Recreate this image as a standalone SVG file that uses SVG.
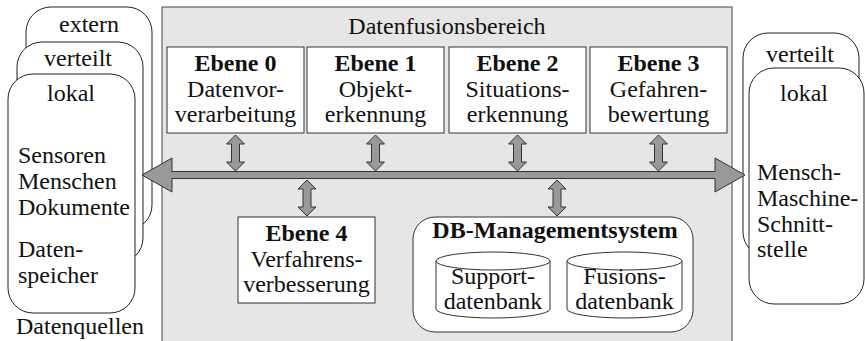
<svg xmlns="http://www.w3.org/2000/svg" width="865" height="341" viewBox="0 0 865 341">
<style>
text{font-family:"Liberation Serif","Times New Roman",serif;font-size:24px;fill:#111}
.c{text-anchor:middle}
.b{font-weight:bold}
.card{fill:#fff;stroke:#222;stroke-width:1}
.box{fill:#fff;stroke:#333;stroke-width:1}
.arr{fill:#999;stroke:#333;stroke-width:1}
</style>
<defs>
<path id="dbl" d="M0,0 L9,9 L4,9 L4,27 L9,27 L0,36 L-9,27 L-4,27 L-4,9 L-9,9 Z"/>
</defs>
<rect x="0" y="0" width="865" height="341" fill="#fff"/>

<g id="quellen">
<rect class="card" x="26" y="7" width="126" height="223" rx="25" ry="25"/>
<text class="c" x="89" y="32">extern</text>
<rect class="card" x="17" y="42" width="126" height="221" rx="25" ry="25"/>
<text class="c" x="78" y="66">verteilt</text>
<rect class="card" x="8" y="74" width="127" height="239" rx="25" ry="25"/>
<text class="c" x="71" y="101">lokal</text>
<text x="18" y="163">Sensoren</text>
<text x="18" y="189">Menschen</text>
<text x="18" y="215">Dokumente</text>
<text x="18" y="257">Daten-</text>
<text x="18" y="283">speicher</text>
<text class="c" x="80" y="334">Datenquellen</text>
</g>

<g id="fusionsbereich">
<rect x="162" y="7" width="570" height="340" fill="#e6e6e6" stroke="#444" stroke-width="1"/>
<text class="c" x="447" y="34">Datenfusionsbereich</text>
</g>

<g id="ebene0">
<rect class="box" x="167" y="47" width="137" height="86"/>
<text class="c b" x="235.5" y="71">Ebene 0</text>
<text class="c" x="235.5" y="97">Datenvor-</text>
<text class="c" x="235.5" y="122">verarbeitung</text>
</g>
<g id="ebene1">
<rect class="box" x="307" y="47" width="137" height="86"/>
<text class="c b" x="375.5" y="71">Ebene 1</text>
<text class="c" x="375.5" y="97">Objekt-</text>
<text class="c" x="375.5" y="122">erkennung</text>
</g>
<g id="ebene2">
<rect class="box" x="449" y="47" width="137" height="86"/>
<text class="c b" x="517.5" y="71">Ebene 2</text>
<text class="c" x="517.5" y="97">Situations-</text>
<text class="c" x="517.5" y="122">erkennung</text>
</g>
<g id="ebene3">
<rect class="box" x="590" y="47" width="137" height="86"/>
<text class="c b" x="658.5" y="71">Ebene 3</text>
<text class="c" x="658.5" y="97">Gefahren-</text>
<text class="c" x="658.5" y="122">bewertung</text>
</g>
<g id="ebene4">
<rect class="box" x="238" y="217" width="137" height="86"/>
<text class="c b" x="306.5" y="241">Ebene 4</text>
<text class="c" x="306.5" y="267">Verfahrens-</text>
<text class="c" x="306.5" y="292">verbesserung</text>
</g>
<g id="dbms">
<rect class="box" x="413" y="217" width="280" height="115" rx="22" ry="22"/>
<text class="c b" x="555" y="238">DB-Managementsystem</text>
<g id="supportdb">
<path class="box" d="M436,261 L436,309 A57,9 0 0 0 550,309 L550,261"/>
<ellipse class="box" cx="493" cy="261" rx="57" ry="9"/>
<text class="c" x="493" y="284">Support-</text>
<text class="c" x="493" y="309">datenbank</text>
</g>
<g id="fusionsdb">
<path class="box" d="M567,261 L567,309 A57.5,9 0 0 0 682,309 L682,261"/>
<ellipse class="box" cx="624.5" cy="261" rx="57.5" ry="9"/>
<text class="c" x="624.5" y="284">Fusions-</text>
<text class="c" x="624.5" y="309">datenbank</text>
</g>
</g>

<g id="senken">
<rect class="card" x="743" y="33" width="116" height="224" rx="25" ry="25"/>
<text class="c" x="800" y="62">verteilt</text>
<rect class="card" x="749" y="68" width="115" height="236" rx="25" ry="25"/>
<text class="c" x="804" y="101">lokal</text>
<text x="757" y="180">Mensch-</text>
<text x="757" y="206">Maschine-</text>
<text x="757" y="232">Schnitt-</text>
<text x="757" y="257">stelle</text>
</g>

<g id="connectors">
<polygon class="arr" points="142,175 172,158 172,171.5 715,171.5 715,158 745,175 715,192 715,178.5 172,178.5 172,192"/>
<use href="#dbl" class="arr" x="235.5" y="135"/>
<use href="#dbl" class="arr" x="375.5" y="135"/>
<use href="#dbl" class="arr" x="517.5" y="135"/>
<use href="#dbl" class="arr" x="658.5" y="135"/>
<use href="#dbl" class="arr" x="307" y="180"/>
<use href="#dbl" class="arr" x="557" y="180"/>
</g>
</svg>
